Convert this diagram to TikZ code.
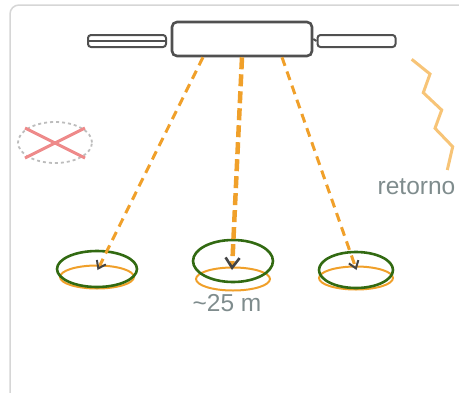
\documentclass[tikz,border=0pt]{standalone}
\usepackage{fontspec}
\setmainfont{Liberation Sans}
\usetikzlibrary{arrows.meta,shapes.geometric}
\definecolor{framegray}{HTML}{D6D6D6}
\definecolor{bodygray}{HTML}{505050}
\definecolor{tipgray}{HTML}{454545}
\definecolor{beamorange}{HTML}{F0A02A}
\definecolor{ringgreen}{HTML}{326A12}
\definecolor{labelgray}{HTML}{7F8C8D}
\definecolor{waveorange}{HTML}{F7C477}
\definecolor{crossred}{HTML}{EE8A8A}
\definecolor{ghostgray}{HTML}{BDBDBD}
\tikzset{
  panel/.style={draw=bodygray, line width=2, rounded corners=3, minimum width=78, minimum height=12, inner sep=0},
  footring/.style={ellipse, draw=beamorange, line width=2, minimum width=74, minimum height=23, inner sep=0},
  coverring/.style={ellipse, draw=ringgreen, line width=2.6, minimum width=80, minimum height=36, inner sep=0},
  beamline/.style={draw=beamorange, line width=3, dash pattern=on 9pt off 6pt,
    -{Straight Barb[length=7pt, width=10pt, color=tipgray, line width=2pt]}},
  mainbeam/.style={beamline, line width=4.5, dash pattern=on 12pt off 5pt,
    -{Straight Barb[length=10pt, width=14pt, color=tipgray, line width=2.6pt]}},
  labeltext/.style={text=labelgray, inner sep=0, font=\fontsize{24.5}{28}\selectfont}
}
\begin{document}
\begin{tikzpicture}[x=1pt, y=-1pt]
\useasboundingbox (0,0) rectangle (459,392);
% card outline
\draw[framegray, line width=1.5, rounded corners=9] (10,5) rectangle (490,420);

% satellite: body, solar panels and boom
\node[draw=bodygray, line width=2.6, rounded corners=5, minimum width=140, minimum height=34, inner sep=0] (sat) at (242,39) {};
\node[panel] (lpanel) at (127,41) {};
\draw[bodygray, line width=1.6] (lpanel.west) -- (lpanel.east);
\node[panel] (rpanel) at (356.5,41) {};
\draw[bodygray, line width=2] (sat.east) -- (rpanel.west);

% footprints on the ground
\node[footring] (f1) at (97,277) {};
\node[footring] (f2) at (233,279) {};
\node[footring] (f3) at (356,278) {};
\node[coverring] (g1) at (97,269) {};
\node[coverring, minimum height=42] (g2) at (233,261) {};
\node[coverring, minimum width=74] (g3) at (356,270) {};

% beams
\coordinate (b1) at ([xshift=-39pt]sat.south);
\coordinate (b2) at (sat.south);
\coordinate (b3) at ([xshift=40pt]sat.south);
\coordinate (t1) at (97.5,270);
\coordinate (t2) at (232,270);
\coordinate (t3) at (356.5,270);
\draw[beamline] (b1) -- (t1);
\draw[mainbeam] (b2) -- (t2);
\draw[beamline] (b3) -- (t3);

\node[labeltext] (dist) at (227,303) {\textasciitilde25 m};

% return signal
\draw[waveorange, line width=3] (411.7,59.3) -- (430,74) -- (423.3,92.7) -- (441.7,110)
  -- (435,128.3) -- (452.7,146.7) -- (447.3,170);
\node[labeltext] (ret) at (416.5,187) {retorno};

% discarded footprint
\node[ellipse, draw=ghostgray, dashed, line width=1.8, minimum width=74, minimum height=41, inner sep=0] (lost) at (55,142.5) {};
\draw[crossred, line width=3] ([shift={(-30,-14.5)}]lost.center) -- ([shift={(30,15.5)}]lost.center);
\draw[crossred, line width=3] ([shift={(-30,15.5)}]lost.center) -- ([shift={(30,-14.5)}]lost.center);
\end{tikzpicture}
\end{document}
